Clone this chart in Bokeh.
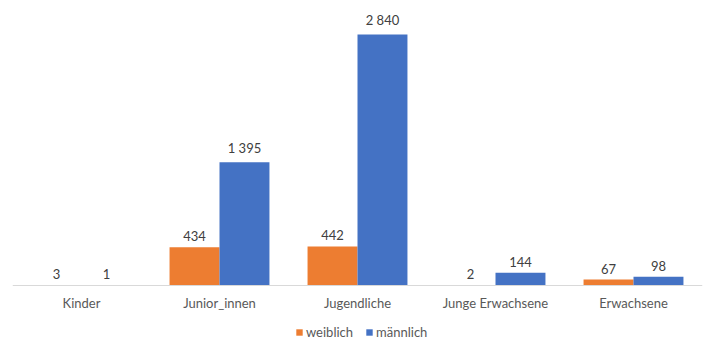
from bokeh.plotting import figure
from bokeh.models import ColumnDataSource, Range1d, FactorRange, LabelSet, Legend, LegendItem
from bokeh.core.properties import value
from bokeh.transform import dodge
from bokeh.embed import file_html
from bokeh.resources import INLINE

categories = ["Kinder", "Junior_innen", "Jugendliche", "Junge Erwachsene", "Erwachsene"]
weiblich = [3, 434, 442, 2, 67]
maennlich = [1, 1395, 2840, 144, 98]
series_names = ["weiblich", "männlich"]
colors = ["#ED7D31", "#4472C4"]


def fmt(v):
    return f"{v:,}".replace(",", " ")


src = ColumnDataSource(dict(
    cat=categories,
    w=weiblich,
    m=maennlich,
    wl=[fmt(v) for v in weiblich],
    ml=[fmt(v) for v in maennlich],
))

# frame spans the whole canvas; 0 sits 55 px above the bottom edge
scale = 285 / 3224.0
p = figure(width=707, height=340, x_range=FactorRange(*categories),
           y_range=Range1d(-55 / scale, 3224),
           output_backend="svg", toolbar_location=None,
           min_border_left=12, min_border_right=5, min_border_top=0, min_border_bottom=0)
p.outline_line_color = None
p.grid.visible = False
p.yaxis.visible = False
p.x_range.range_padding = 0

bw = 0.362
r1 = p.vbar(x=dodge("cat", -bw / 2, range=p.x_range), top="w", width=bw, source=src,
            fill_color=colors[0], line_color=None)
r2 = p.vbar(x=dodge("cat", bw / 2, range=p.x_range), top="m", width=bw, source=src,
            fill_color=colors[1], line_color=None)

font = "Lato"
for col, lab, off in (("w", "wl", -bw / 2), ("m", "ml", bw / 2)):
    ls = LabelSet(x=dodge("cat", off, range=p.x_range), y=col, text=lab, source=src,
                  text_align="center", text_baseline="bottom", y_offset=6,
                  text_font=value(font), text_font_size=value("13px"), text_color="#404040")
    p.add_layout(ls)

ax = p.xaxis[0]
ax.fixed_location = 0
ax.axis_line_color = "#D9D9D9"
ax.major_tick_line_color = None
ax.minor_tick_line_color = None
ax.major_label_standoff = 3
ax.major_label_text_font = font
ax.major_label_text_font_size = "13px"
ax.major_label_text_color = "#595959"

legend = Legend(items=[LegendItem(label=series_names[0], renderers=[r1]),
                       LegendItem(label=series_names[1], renderers=[r2])],
                orientation="horizontal", location=(283, 0),
                glyph_width=8, glyph_height=8, label_text_font=font,
                label_text_font_size="13px", label_text_color="#595959",
                label_standoff=3, spacing=12, padding=0, margin=0,
                border_line_color=None, background_fill_alpha=0,
                label_height=14)
p.add_layout(legend)

open("out.html", "w").write(file_html(p, INLINE))
